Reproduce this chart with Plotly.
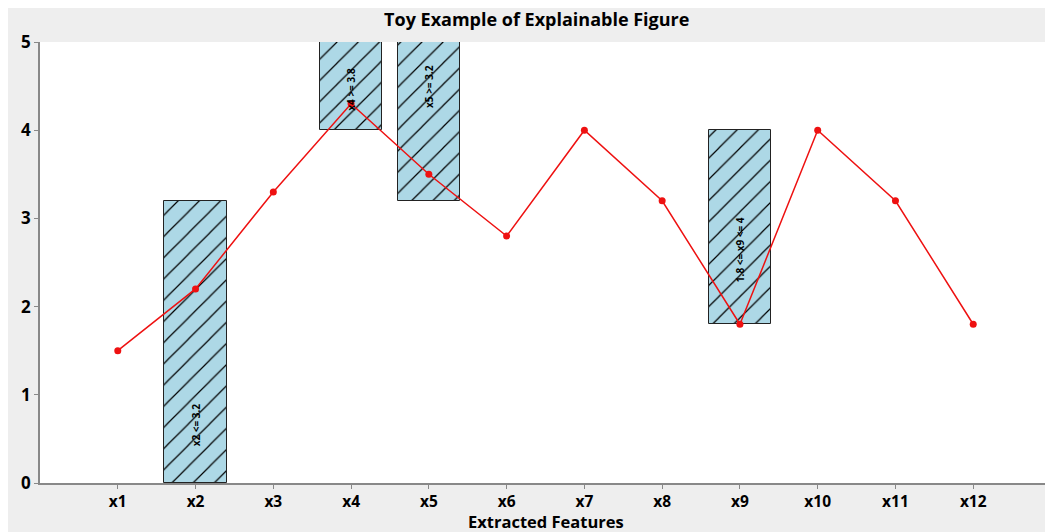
import plotly.graph_objects as go

features = ["x1", "x2", "x3", "x4", "x5", "x6", "x7", "x8", "x9", "x10", "x11", "x12"]
values = [1.5, 2.2, 3.3, 4.3, 3.5, 2.8, 4.0, 3.2, 1.8, 4.0, 3.2, 1.8]

rule_pos = [2, 4, 5, 9]
rule_low = [0.0, 4.0, 3.2, 1.8]
rule_high = [3.2, 5.0, 5.0, 4.0]
rule_text = ["x2 <= 3.2", "x4 >= 3.8", "x5 >= 3.2", "1.8 <= x9 <= 4"]
rule_text_y = [0.66, 4.46, 4.5, 2.65]
x_title = "Extracted Features"

xpos = list(range(1, len(features) + 1))

# page has an 8px body margin; figure drawn at (8, 8)
W, H = 1045, 524
L, R, T, B = 32, 2, 34, 49
PH = H - T - B

fig = go.Figure()
fig.add_trace(go.Bar(
    x=rule_pos,
    y=[h - l for h, l in zip(rule_high, rule_low)],
    base=rule_low,
    width=0.8,
    marker=dict(
        color="#add8e6",
        line=dict(color="#222222", width=1),
        pattern=dict(shape="/", fgcolor="#000000", bgcolor="#add8e6",
                     size=15, solidity=0.08, fgopacity=1),
    ),
    showlegend=False,
    hoverinfo="skip",
))
fig.add_trace(go.Scatter(
    x=xpos, y=values, mode="lines+markers",
    line=dict(color="#ee1111", width=1.5),
    marker=dict(color="#ee1111", size=7),
    showlegend=False,
))

for p, t, ty in zip(rule_pos, rule_text, rule_text_y):
    fig.add_annotation(x=p, y=ty, text="<b>%s</b>" % t, textangle=-90, showarrow=False,
                       font=dict(size=10, color="black", family="Open Sans"))

# x-axis title placed precisely below the tick labels
fig.add_annotation(xref="paper", yref="paper", x=0.5, y=-38 / PH, yanchor="middle",
                   text="<b>%s</b>" % x_title, showarrow=False,
                   font=dict(size=16.5, color="black", family="Open Sans"))

# right border line
fig.add_shape(type="line", xref="paper", yref="paper", x0=1, x1=1, y0=0, y1=1,
              line=dict(color="#444444", width=2))

fig.update_layout(
    width=W, height=H,
    margin=dict(l=L, r=R, t=T, b=B, autoexpand=False),
    paper_bgcolor="#eeeeee",
    plot_bgcolor="white",
    font=dict(family="Open Sans", color="black"),
    title=dict(text="<b>Toy Example of Explainable Figure</b>", x=0.506, xanchor="center",
               y=1 - 12 / H, yanchor="middle", font=dict(size=18, color="black")),
    bargap=0,
)
fig.update_xaxes(
    range=[0, 13], tickvals=xpos, ticktext=["<b>%s</b>" % f for f in features],
    tickfont=dict(size=15.5), ticks="outside", ticklen=4, tickcolor="#888888",
    showline=True, linecolor="#888888", linewidth=1.5, showgrid=False, zeroline=False,
    automargin=False,
)
fig.update_yaxes(
    range=[0, 5], dtick=1, tickfont=dict(size=17),
    tickprefix="<b>", ticksuffix="</b>",
    ticks="outside", ticklen=4, tickcolor="#888888",
    showline=True, linecolor="#888888", linewidth=1.5, showgrid=False, zeroline=False,
    automargin=False,
)

fig.write_html("out.html")
